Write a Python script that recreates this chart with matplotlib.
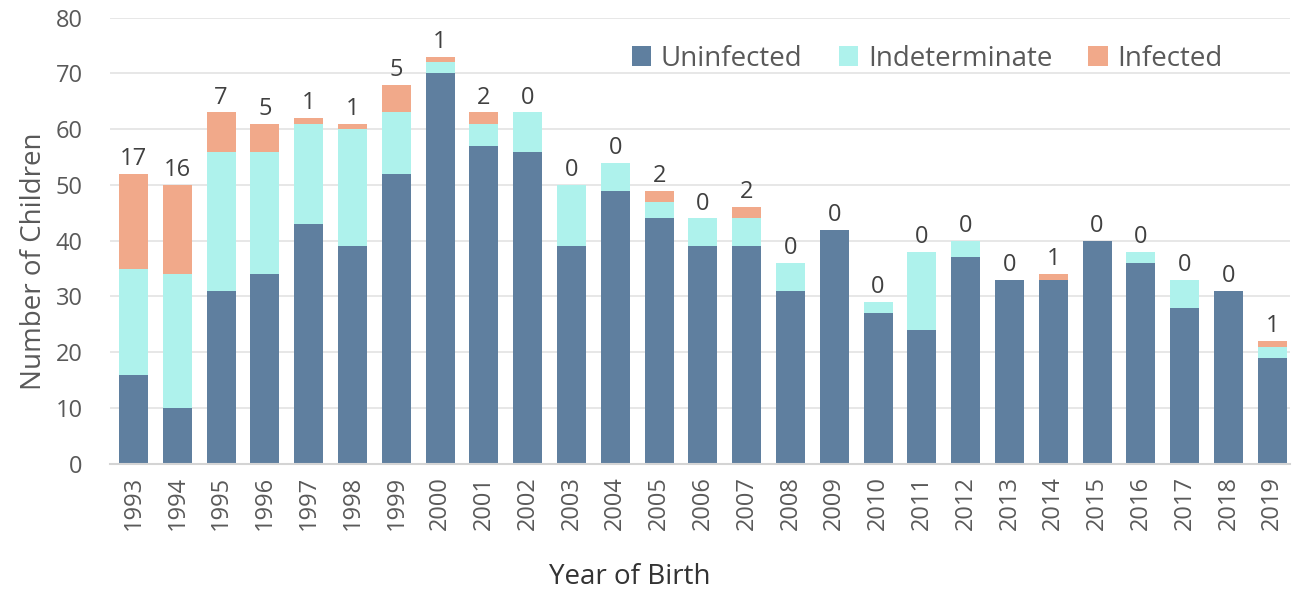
import matplotlib
matplotlib.use("Agg")
import matplotlib.pyplot as plt
import numpy as np

plt.rcParams['font.family'] = ['Open Sans', 'DejaVu Sans']

# данные по годам рождения
years = [str(y) for y in range(1993, 2020)]
uninfected = [16, 10, 31, 34, 43, 39, 52, 70, 57, 56, 39, 49, 44, 39, 39,
              31, 42, 27, 24, 37, 33, 33, 40, 36, 28, 31, 19]
indeterminate = [19, 24, 25, 22, 18, 21, 11, 2, 4, 7, 11, 5, 3, 5, 5,
                 5, 0, 2, 14, 3, 0, 0, 0, 2, 5, 0, 2]
infected = [17, 16, 7, 5, 1, 1, 5, 1, 2, 0, 0, 0, 2, 0, 2,
            0, 0, 0, 0, 0, 0, 1, 0, 0, 0, 0, 1]

c_unf = '#5f7f9f'
c_ind = '#aef2ec'
c_inf = '#f1a98a'
txt = '#595959'

fig, ax = plt.subplots(figsize=(12.98, 5.9), dpi=100)
fig.subplots_adjust(left=0.085, right=0.994, top=0.97, bottom=0.214)

x = np.arange(len(years))
w = 0.66
u = np.array(uninfected)
d = np.array(indeterminate)
f = np.array(infected)

ax.bar(x, u, w, color=c_unf, label='Uninfected', zorder=2)
ax.bar(x, d, w, bottom=u, color=c_ind, label='Indeterminate', zorder=2)
bars = ax.bar(x, f, w, bottom=u + d, color=c_inf, label='Infected', zorder=2)
ax.bar_label(bars, labels=[str(v) for v in infected], padding=2,
             fontsize=17, color='#404040')

ax.set_ylim(0, 80)
ax.set_yticks(range(0, 81, 10))
ax.set_xlim(-0.53, len(years) - 0.59)
ax.set_xticks(x)
ax.set_xticklabels(years, rotation=90)
ax.tick_params(axis='both', length=0, labelsize=17, colors=txt)
ax.tick_params(axis='x', pad=9)
ax.tick_params(axis='y', pad=20)

ax.grid(axis='y', color='#e3e3e3', linewidth=1.2, zorder=0)
ax.set_axisbelow(True)
for s in ['top', 'right', 'left']:
    ax.spines[s].set_visible(False)
ax.spines['bottom'].set_color('#d4d4d4')
ax.spines['bottom'].set_linewidth(1.5)

ax.set_ylabel('Number of Children', fontsize=20, color=txt)
ax.yaxis.set_label_coords(-0.053, 0.455)
ax.set_xlabel('Year of Birth', fontsize=20, color='#333333')
ax.xaxis.set_label_coords(0.44, -0.222)

ax.legend(loc='upper right', bbox_to_anchor=(0.964, 0.995), ncol=3,
          frameon=False, fontsize=20, labelcolor=txt, handlelength=0.7,
          handleheight=0.7, handletextpad=0.35, columnspacing=1.3)

fig.savefig('out.png', dpi=100)
